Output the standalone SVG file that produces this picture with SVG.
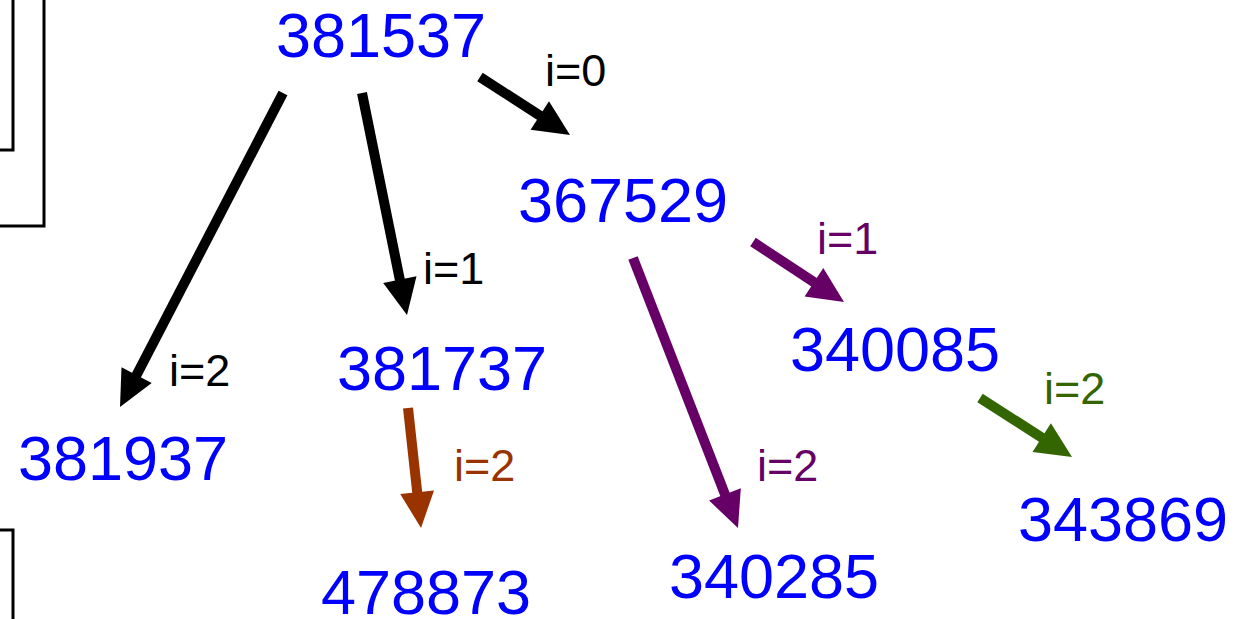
<svg xmlns="http://www.w3.org/2000/svg" width="1241" height="619" viewBox="0 0 1241 619">
<style>
.num{font-family:"Liberation Sans",Arial,sans-serif;font-size:63px;fill:#0000ff;text-anchor:middle}
.lbl{font-family:"Liberation Sans",Arial,sans-serif;font-size:45px}
.frame{fill:none;stroke:#000;stroke-width:3}
.k{stroke:#000;fill:#000}
.br{stroke:#993300;fill:#993300}
.pu{stroke:#660066;fill:#660066}
.gr{stroke:#336600;fill:#336600}
line{stroke-width:10;stroke-linecap:butt}
polygon{stroke:none}
</style>
<rect width="1241" height="619" fill="#fff"/>
<g id="frames">
<path class="frame" d="M0,150 H13 V0"/>
<path class="frame" d="M0,226 H44 V0"/>
<path class="frame" d="M0,530 H13 V619"/>
</g>
<g id="connectors">
<g class="k"><line x1="480" y1="77" x2="542" y2="117"/><polygon points="570,135 530.6,129.8 549,101.2"/></g>
<g class="k"><line x1="283" y1="93" x2="135" y2="378"/><polygon points="120,407 121.5,367.2 151.7,382.9"/></g>
<g class="k"><line x1="362" y1="93" x2="400.5" y2="283"/><polygon points="407,315 383.2,283.1 416.5,276.3"/></g>
<g class="br"><line x1="408" y1="408" x2="417.5" y2="495"/><polygon points="421,528 400.2,494 434,490.4"/></g>
<g class="pu"><line x1="633" y1="258" x2="726" y2="497"/><polygon points="738,528 709.1,500.6 740.8,488.3"/></g>
<g class="pu"><line x1="753" y1="242" x2="816" y2="283.5"/><polygon points="844,302 804.6,296.4 823.3,268"/></g>
<g class="gr"><line x1="980" y1="398" x2="1044" y2="439"/><polygon points="1072,457 1032.5,451.9 1050.9,423.3"/></g>
</g>
<g id="labels">
<text class="lbl" x="545" y="86" fill="#000">i=0</text>
<text class="lbl" x="423" y="284" fill="#000">i=1</text>
<text class="lbl" x="169" y="386" fill="#000">i=2</text>
<text class="lbl" x="454" y="481" fill="#993300">i=2</text>
<text class="lbl" x="817" y="254" fill="#660066">i=1</text>
<text class="lbl" x="757" y="481" fill="#660066">i=2</text>
<text class="lbl" x="1044" y="404" fill="#336600">i=2</text>
</g>
<g id="n381537"><text class="num" x="381" y="57">381537</text></g>
<g id="n381937"><text class="num" x="123" y="480">381937</text></g>
<g id="n367529"><text class="num" x="623" y="222">367529</text></g>
<g id="n381737"><text class="num" x="442" y="390">381737</text></g>
<g id="n340085"><text class="num" x="895" y="371">340085</text></g>
<g id="n478873"><text class="num" x="426" y="614">478873</text></g>
<g id="n340285"><text class="num" x="774" y="598">340285</text></g>
<g id="n343869"><text class="num" x="1123" y="541">343869</text></g>
</svg>
